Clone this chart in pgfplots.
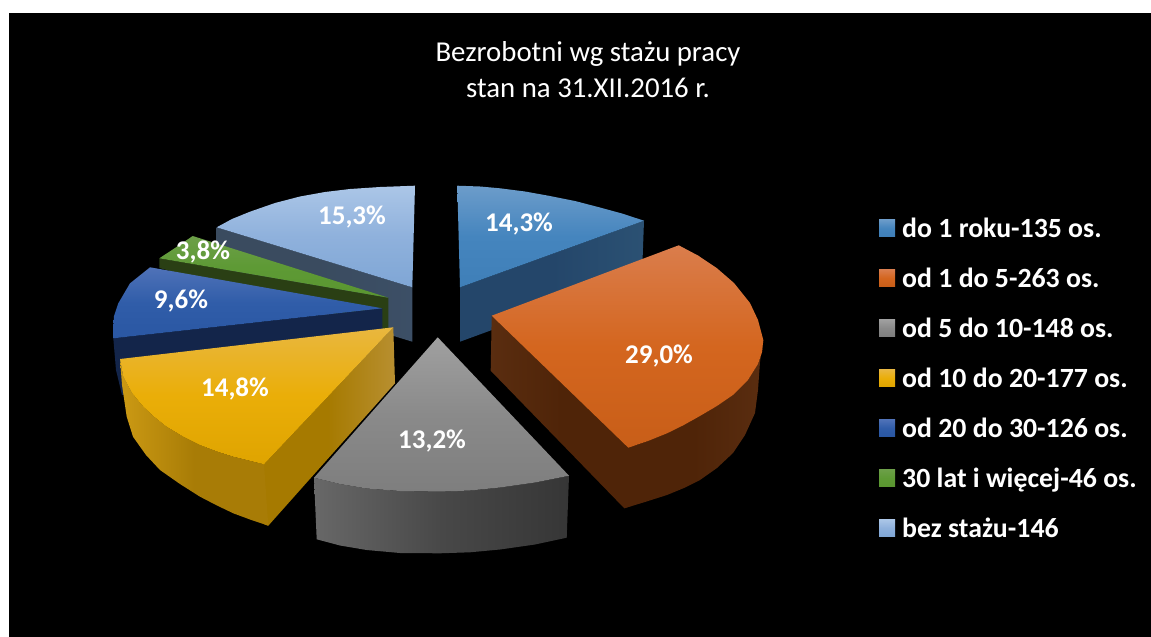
\documentclass[border=0pt]{standalone}
\usepackage{fontspec}
\setmainfont{Carlito}
\usepackage{pgfplots}
\pgfplotsset{compat=1.18}

\definecolor{blueA}{HTML}{6C9CCA}\definecolor{blueB}{HTML}{4585BE}\definecolor{blueC}{HTML}{3F7FB8}
\definecolor{blueSa}{HTML}{24466A}\definecolor{blueSb}{HTML}{2B5173}
\definecolor{orA}{HTML}{DA7D4C}\definecolor{orB}{HTML}{D4661F}\definecolor{orC}{HTML}{C85E18}
\definecolor{orSa}{HTML}{5A2D10}\definecolor{orSb}{HTML}{4F2408}
\definecolor{grA}{HTML}{A0A0A0}\definecolor{grB}{HTML}{8A8A8A}\definecolor{grC}{HTML}{7E7E7E}
\definecolor{grSa}{HTML}{686868}\definecolor{grSm}{HTML}{484848}\definecolor{grSb}{HTML}{363636}
\definecolor{yeA}{HTML}{E9B73F}\definecolor{yeB}{HTML}{EAAE08}\definecolor{yeC}{HTML}{DFA400}
\definecolor{yeSa}{HTML}{CC9A14}\definecolor{yeSb}{HTML}{A87C06}
\definecolor{yeRa}{HTML}{A67A00}\definecolor{yeRb}{HTML}{B88F30}
\definecolor{naA}{HTML}{4F72B8}\definecolor{naB}{HTML}{305DA9}\definecolor{naC}{HTML}{2A57A3}
\definecolor{naS}{HTML}{13254A}
\definecolor{geA}{HTML}{6C9F48}\definecolor{geB}{HTML}{5E9A35}\definecolor{geC}{HTML}{5A9630}
\definecolor{geS}{HTML}{2A3F14}
\definecolor{lbA}{HTML}{ABC6E7}\definecolor{lbB}{HTML}{8FB1DC}\definecolor{lbC}{HTML}{7FA6D5}
\definecolor{lbSa}{HTML}{3A4B5F}\definecolor{lbSb}{HTML}{3C4F66}

\tikzset{
  top/.style n args={3}{draw=none,top color=#1,bottom color=#3,middle color=#2},
  side/.style n args={3}{draw=none,left color=#1,right color=#3,middle color=#2},
}

\begin{document}
\begin{tikzpicture}
\begin{axis}[
    scale only axis, width=1151pt, height=637pt,
    xmin=0, xmax=1151, ymin=0, ymax=637,
    y dir=reverse,
    hide axis,
    legend image code/.code={\path[#1] (0pt,-8.5pt) rectangle (16pt,8.5pt);},
    legend cell align=left,
    legend style={at={(axis cs:879,212.5)}, anchor=north west, draw=none, fill=none,
        text=white, font=\fontsize{27.8}{27.8}\selectfont\bfseries,
        inner xsep=0pt, inner ysep=0pt,
        row sep=19.4pt, nodes={inner xsep=7pt, inner ysep=0pt, minimum height=30.6pt, anchor=west}},
]
% page and background
\addplot[forget plot, draw=none, fill=white] coordinates {(0,0)(1151,0)(1151,637)(0,637)(0,0)};
\addplot[forget plot, draw=none, fill=black] coordinates {(9,13)(1151,13)(1151,637)(9,637)(9,13)};

% bez stazu
\addplot[forget plot, side={lbSa}{lbSa}{lbSb}] coordinates {(216.7,227.3)(412.3,287.3)(412.3,341.7)(216.7,282)(216.7,227.3)};
\addplot[forget plot, top={lbA}{lbB}{lbC}] coordinates {(216.7,227.3)(232,219)(250,211.7)(275,203)(300,196.5)(325,192)(350,189)(380,187)(415,185.7)(412.3,287.3)(216.7,227.3)};

% do 1 roku
\addplot[forget plot, side={blueSa}{blueSa}{blueSb}] coordinates {(460,287.3)(644,220.7)(642,275)(460,341.7)(460,287.3)};
\addplot[forget plot, top={blueA}{blueB}{blueC}] coordinates {(457.3,185.7)(480,186.5)(500,188.3)(525,191.5)(550,196)(575,201)(600,207.5)(622,213.5)(644,220.7)(460,287.3)(457.3,185.7)};

% 30 lat i wiecej
\addplot[forget plot, draw=none, fill=geS] coordinates {(159.3,258.3)(388.3,297.7)(388.3,330)(159.3,268)(159.3,258.3)};
\addplot[forget plot, top={geA}{geB}{geC}] coordinates {(192.7,236)(175,248)(159.3,258.3)(388.3,297.7)(192.7,236)};

% od 20 do 30
\addplot[forget plot, draw=none, fill=naS] coordinates {(113.3,338.3)(382.3,308.3)(382.5,364)(122,395)(116,370)(113.3,338.3)};
\addplot[forget plot, top={naA}{naB}{naC}] coordinates {(150,267.3)(130,283.3)(118.3,303.3)(114,316)(113.3,326.7)(113.3,338.3)(382.3,308.3)(150,267.3)};

% od 1 do 5
\addplot[forget plot, side={orSa}{orSb}{orSb}] coordinates {(491.7,315.7)(633,446)(631,506)(624.3,508.3)(490.7,370.7)(491.7,315.7)};
\addplot[forget plot, side={orSb}{orSb}{orSa}] coordinates {(628.3,447.7)(648,441)(666.7,433.5)(683,425.5)(700,416)(717,406)(733,395)(748,380)(758,364)(762,352)(763.3,340)(760,362)(758,390)(755,413)(745,435)(733,453)(717,468)(700,480)(684,488)(667,495)(645,502)(624.3,508.3)(628.3,447.7)};
\addplot[forget plot, top={orA}{orB}{orC}] coordinates {(678.7,245.3)(698,255.5)(716.7,268)(734,283)(750,303)(758,320)(763.3,340)(762,352)(758,364)(748,380)(733,395)(717,406)(700,416)(683,425.5)(666.7,433.5)(648,441)(628.3,447.7)(491.7,315.7)(678.7,245.3)};

% od 10 do 20
\addplot[forget plot, side={yeRa}{yeRa}{yeRb}] coordinates {(260,463.5)(264,464.3)(393.3,327.3)(395,383.3)(268.3,525.7)(264,524)(260,463.5)};
\addplot[forget plot, side={yeSa}{yeSb}{yeSb}] coordinates {(120,359)(123.3,376.7)(132,393)(143.3,406.7)(155,417.5)(166.7,426.7)(183,436.5)(200,445)(217,451.5)(233.3,456.7)(264,464.3)(268.3,525.7)(250,519.5)(233.3,513.3)(217,505.5)(200,496.7)(180,484)(160,470)(146,455)(133,436.7)(126.7,416.7)(122,385)(120,359)};
\addplot[forget plot, top={yeA}{yeB}{yeC}] coordinates {(393.3,327.3)(120,359)(123.3,376.7)(132,393)(143.3,406.7)(155,417.5)(166.7,426.7)(183,436.5)(200,445)(217,451.5)(233.3,456.7)(264,464.3)(393.3,327.3)};

% od 5 do 10
\addplot[forget plot, side={grSa}{grSm}{grSb}] coordinates {(314,477.7)(340,484)(366.7,488.5)(400,491)(440,491.7)(470,490.5)(500,487.5)(535,482.5)(569,475.7)(566.7,537.7)(535,544.5)(500,549.5)(470,552.3)(440,553.3)(400,553)(366.7,550)(340,545.5)(316.7,539.3)(314,477.7)};
\addplot[forget plot, top={grA}{grB}{grC}] coordinates {(437.7,337.3)(314,477.7)(340,484)(366.7,488.5)(400,491)(440,491.7)(470,490.5)(500,487.5)(535,482.5)(569,475.7)(437.7,337.3)};

% legend
\addlegendimage{top={blueA}{blueB}{blueC}}\addlegendentry{do 1 roku-135 os.}
\addlegendimage{top={orA}{orB}{orC}}\addlegendentry{od 1 do 5-263 os.}
\addlegendimage{top={grA}{grB}{grC}}\addlegendentry{od 5 do 10-148 os.}
\addlegendimage{top={yeA}{yeB}{yeC}}\addlegendentry{od 10 do 20-177 os.}
\addlegendimage{top={naA}{naB}{naC}}\addlegendentry{od 20 do 30-126 os.}
\addlegendimage{top={geA}{geB}{geC}}\addlegendentry{30 lat i więcej-46 os.}
\addlegendimage{top={lbA}{lbB}{lbC}}\addlegendentry{bez stażu-146}

% data labels and title
\begin{scope}[every node/.style={text=white, font=\fontsize{27}{27}\selectfont\bfseries}]
\node at (axis cs:519,224.5) {14,3\%};
\node at (axis cs:659,356.5) {29,0\%};
\node at (axis cs:432,441.5) {13,2\%};
\node at (axis cs:235,388.5) {14,8\%};
\node at (axis cs:181,301.5) {9,6\%};
\node at (axis cs:203,252.5) {3,8\%};
\node at (axis cs:352,217.5) {15,3\%};
\end{scope}
\node[text=white, align=center, font=\fontsize{28.8}{36}\selectfont] at (axis cs:588,70) {Bezrobotni wg stażu pracy\\stan na 31.XII.2016 r.};
\end{axis}
\end{tikzpicture}
\end{document}
